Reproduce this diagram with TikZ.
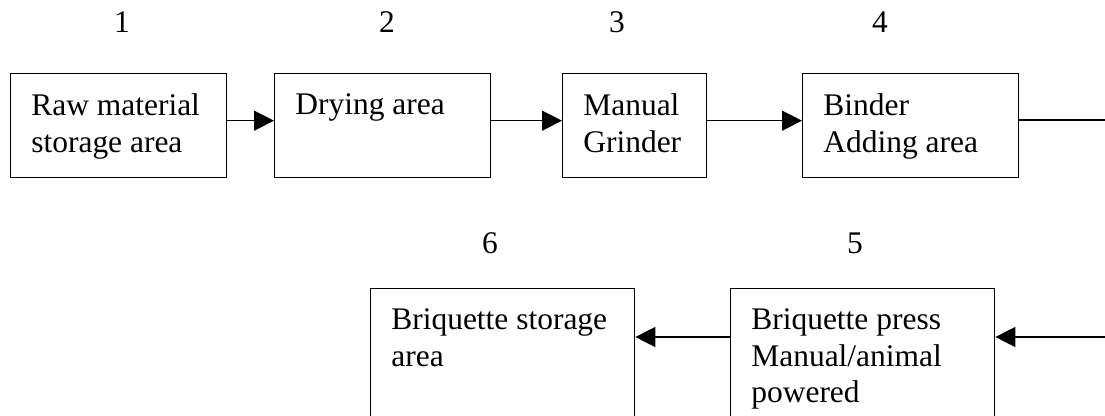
\documentclass[tikz,border=0pt]{standalone}
\usepackage{fontspec}
\setmainfont{Liberation Serif}
\usetikzlibrary{arrows.meta,positioning}

\tikzset{
  area/.style={draw, line width=1pt, anchor=north west, inner xsep=15.5pt, inner ysep=15pt},
  flow/.style={-{Triangle[length=15pt,width=15pt]}, line width=1pt},
  link/.style={line width=1pt},
  num/.style={inner sep=0pt}
}
\newcommand{\areatext}[3]{\parbox[c][#2][t]{#1}{\raggedright #3}}

\begin{document}
\begin{tikzpicture}[x=0.75pt, y=-0.75pt, font=\fontsize{23.6}{27.5}\selectfont]
  \useasboundingbox (0,0) rectangle (1105,415);

  % top row
	\node[area]		(raw)	at (10, 73)		{\areatext{131pt}{48pt}{Raw material\\storage area}};
	\node[area]		(dry)	at (274, 73)	{\areatext{131pt}{48pt}{Drying area}};
	\node[area]		(grind)	at (562, 73)	{\areatext{77pt}{48pt}{Manual\\Grinder}};
	\node[area]		(bind)	at (802, 73)	{\areatext{131pt}{48pt}{Binder\\Adding area}};

	\node[num]		(n1)	at (122, 22)	{1};
	\node[num]		(n2)	at (387, 22)	{2};
	\node[num]		(n3)	at (617, 22)	{3};
	\node[num]		(n4)	at (880, 22)	{4};

	\draw[flow] ([yshift=3.75pt]raw.east) -- ([yshift=3.75pt]dry.west);
	\draw[flow] ([yshift=3.75pt]dry.east) -- ([yshift=3.75pt]grind.west);
	\draw[flow] ([yshift=3.75pt]grind.east) -- ([yshift=3.75pt]bind.west);

	\coordinate (top end) at (1105, 120);
	\draw[link] (bind.east |- top end) -- (top end);

  % bottom row
	\node[area]		(store)	at (370, 288)	{\areatext{167pt}{82pt}{Briquette storage\\area}};
	\node[area]		(press)	at (730, 288)	{\areatext{167pt}{82pt}{Briquette press\\Manual/animal\\powered}};

	\node[num]		(n6)	at (490, 243)	{6};
	\node[num]		(n5)	at (855, 243)	{5};

	\coordinate (bottom end) at (1105, 337);
	\draw[flow] (bottom end) -- (bottom end -| press.east);
	\draw[flow] (press.west |- bottom end) -- (store.east |- bottom end);
\end{tikzpicture}
\end{document}
